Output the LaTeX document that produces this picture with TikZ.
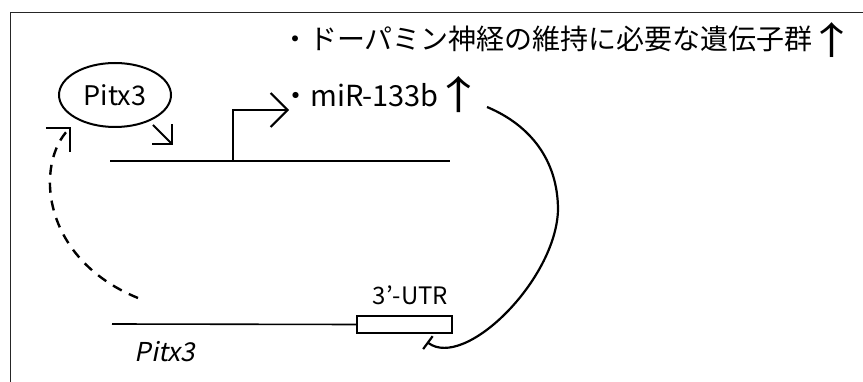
\documentclass[tikz,border=0pt]{standalone}
\usepackage{fontspec}
\usepackage{graphicx}
\setmainfont{Noto Sans CJK JP}
\newfontfamily\itfont[FakeSlant=0.2]{Noto Sans CJK JP}
\newcommand\uparrowglyph[2]{\hspace{#1}\raisebox{#2}{\scalebox{1.75}[1.35]{↑}}}
\usetikzlibrary{arrows.meta,shapes.geometric}
\begin{document}
\begin{tikzpicture}[x=1pt,y=-1pt,
  framel/.style={line width=1pt, black!85},
  dna/.style={line width=2pt},
  txt/.style={inner sep=0pt, anchor=base west},
  vee/.style={-{Straight Barb[length=14pt, width=28pt]}, line width=1.8pt},
  veebig/.style={-{Straight Barb[length=17pt, width=34pt]}, line width=2pt},
  inhib/.style={-{Bar[width=16pt]}, line width=2.2pt},
  dashcurve/.style={-{Straight Barb[length=17pt, width=34pt]}, line width=2.4pt, dash pattern=on 10pt off 8pt}
]
\useasboundingbox (0,0) rectangle (863,382);
% frame (top and left edges)
\draw[framel] (863,12.5) -- (10.5,12.5) -- (10.5,382);

% Pitx3 protein
\node[ellipse, draw, line width=2pt, minimum width=112pt, minimum height=64pt, inner sep=0pt,
      font=\fontsize{27}{29}\selectfont] (pitx) at (115,95) {Pitx3};

% texts
\node[txt, font=\fontsize{28}{30}\selectfont] (genes) at (281,50) {・ドーパミン神経の維持に必要な遺伝子群\uparrowglyph{-5pt}{-5pt}};
\node[txt, font=\fontsize{29}{31}\selectfont] (mir) at (281,107) {・miR-133b\uparrowglyph{-5pt}{-3pt}};

% upper gene (miR-133b locus)
\coordinate (u1) at (110,161);
\coordinate (u2) at (450,161);
\draw[dna] (u1) -- (u2);
\coordinate (tss) at (233,161);
\coordinate (tssend) at (289,110);
\draw[veebig] (tss) |- (tssend);

% Pitx3 binding arrow
\coordinate (b1) at (153,125);
\coordinate (b2) at (173,145);
\draw[vee] (b1) -- (b2);

% lower gene (Pitx3)
\coordinate (l1) at (112,324);
\node[draw, line width=1.6pt, minimum width=95pt, minimum height=17pt, inner sep=0pt] (utr) at (404.5,324.5) {};
\draw[line width=1.6pt] (l1) -- (utr.west);
\node[txt, anchor=base, font=\fontsize{24}{26}\selectfont] (utrlab) at (410.5,305) {3’-UTR};
\node[txt, anchor=base, font=\itfont\fontsize{26}{28}\selectfont] (gene) at (165,362) {Pitx3};

% miR-133b inhibits Pitx3 3'UTR
\coordinate (c1) at (487,107);
\coordinate (cm) at (558,210);
\coordinate (c2) at (427,342);
\draw[inhib] (c1) .. controls (530,125) and (558,160) .. (cm)
  .. controls (556,280) and (465,370) .. (c2);

% Pitx3 produced (dashed)
\coordinate (d1) at (138,298);
\coordinate (d2) at (71,127);
\draw[dashcurve] (d1) .. controls (40,258) and (35,163) .. (d2);
\end{tikzpicture}
\end{document}
